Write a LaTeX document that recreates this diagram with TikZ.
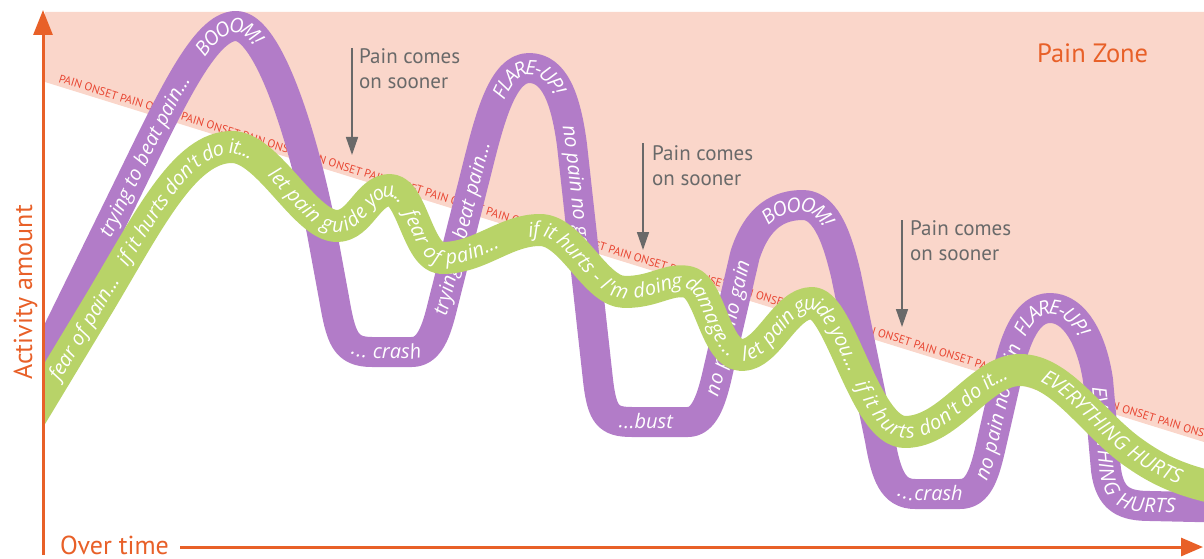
\documentclass[tikz,border=0pt]{standalone}
\usepackage{fontspec}
\setmainfont{PT Sans}
\newfontfamily\bandfamily{Open Sans}
\usetikzlibrary{arrows.meta,decorations.text}

\definecolor{zonepink}{RGB}{250,214,202}
\definecolor{onsetred}{RGB}{232,70,50}
\definecolor{bandpurple}{RGB}{178,124,200}
\definecolor{bandgreen}{RGB}{184,211,104}
\definecolor{axisorange}{RGB}{232,96,40}
\definecolor{notegray}{RGB}{105,105,105}

\newcommand\bandfont{\bandfamily\itshape\fontsize{20}{20}\selectfont}

% purple "boom and bust" curve, piece by piece (start point (30,388))
\def\puA{-- (128,188)}
\def\puB{.. controls (172,98) and (205,26) .. (236,26)}
\def\puC{.. controls (268,26) and (303,135) .. (322,233)}
\def\puD{-- (334,298)}
\def\puE{.. controls (341,338) and (345,352) .. (372,352)}
\def\puF{-- (412,352)}
\def\puG{.. controls (432,352) and (438,324) .. (444,300)}
\def\puH{-- (478,165)}
\def\puI{.. controls (490,117) and (503,68) .. (529,68)}
\def\puJ{.. controls (555,68) and (566,100) .. (572,145)}
\def\puK{-- (598,380)}
\def\puL{.. controls (602,415) and (608,422) .. (632,422)}
\def\puM{-- (688,422)}
\def\puN{.. controls (704,422) and (711,400) .. (716,380)}
\def\puO{-- (745,255)}
\def\puP{.. controls (758,215) and (780,205) .. (803,205)}
\def\puQ{.. controls (828,205) and (839,246) .. (846,275)}
\def\puR{-- (880,440)}
\def\puS{.. controls (886,475) and (893,494) .. (915,494)}
\def\puT{-- (960,494)}
\def\puU{.. controls (978,494) and (984,475) .. (990,450)}
\def\puV{-- (1006,380)}
\def\puW{.. controls (1015,335) and (1028,308) .. (1050,308)}
\def\puX{.. controls (1075,308) and (1092,340) .. (1098,380)}
\def\puY{-- (1106,470)}
\def\puZ{.. controls (1110,500) and (1125,506) .. (1150,506)}
\def\puZZ{-- (1240,508)}

% green "fear avoidance" curve, piece by piece (start point (30,418))
\def\grA{-- (100,302)}
\def\grB{.. controls (150,218) and (185,147) .. (232,147)}
\def\grC{.. controls (268,147) and (305,226) .. (337,226)}
\def\grD{.. controls (360,226) and (368,190) .. (390,190)}
\def\grE{.. controls (412,190) and (418,258) .. (442,258)}
\def\grF{.. controls (480,258) and (505,230) .. (540,230)}
\def\grG{.. controls (572,230) and (595,292) .. (625,292)}
\def\grH{.. controls (655,292) and (668,278) .. (688,282)}
\def\grI{.. controls (710,286) and (715,355) .. (742,355)}
\def\grJ{.. controls (768,355) and (785,303) .. (812,303)}
\def\grK{.. controls (840,303) and (865,432) .. (905,432)}
\def\grL{.. controls (950,432) and (980,370) .. (1020,370)}
\def\grM{.. controls (1060,370) and (1090,420) .. (1130,450)}
\def\grN{.. controls (1160,472) and (1185,483) .. (1240,493)}

\begin{document}
\begin{tikzpicture}[x=1pt,y=-1pt,
  purpleband/.style={draw=bandpurple,line width=30pt,line join=round},
  greenband/.style={draw=bandgreen,line width=32pt,line join=round},
  bandtext/.style 2 args={decorate,decoration={text along path,
      text={|\bandfont|#2},text align={left indent=#1},
      raise=-6.5pt,text color=white}},
  axisline/.style={draw=axisorange,line width=3pt},
  painarrow/.style={draw=notegray,line width=1.6pt,
      -{Triangle[length=18pt,width=12pt]}},
  note/.style={text=notegray,font=\fontsize{21}{25}\selectfont,
      align=left,anchor=north west,inner sep=0pt},
  axislabel/.style={text=axisorange,font=\fontsize{26}{26}\selectfont,
      inner sep=0pt}]

\useasboundingbox (0,0) rectangle (1204,559);

% pain zone above the pain onset line
\fill[zonepink] (45,12) -- (1204,12) -- (1204,442) -- (45,82) -- cycle;

\begin{scope}
  \clip (44,0) rectangle (1204,559);
  \node[text=onsetred,font=\fontsize{11.5}{11.5}\selectfont,inner sep=0pt,
        anchor=base west,rotate=-17.25] (onset) at (58,82)
    {PAIN ONSET PAIN ONSET PAIN ONSET PAIN ONSET PAIN ONSET PAIN ONSET
     PAIN ONSET PAIN ONSET PAIN ONSET PAIN ONSET PAIN ONSET PAIN ONSET
     PAIN ONSET PAIN ONSET PAIN ONSET PAIN ONSET PAIN ONSET PAIN ONSET
     PAIN ONSET PAIN ONSET PAIN ONSET};

  % boom and bust
  \draw[purpleband] (30,388) \puA \puB \puC \puD \puE \puF \puG \puH \puI
    \puJ \puK \puL \puM \puN \puO \puP \puQ \puR \puS \puT \puU \puV \puW
    \puX \puY \puZ \puZZ;
  \path[bandtext={170pt}{trying to beat pain...}] (30,388) \puA \puB;
  \path[bandtext={152pt}{BOOOM!}] (128,188) \puB \puC;
  \path[bandtext={55pt}{... crash}] (334,298) \puE \puF \puG;
  \path[bandtext={50pt}{trying to beat pain...}] (412,352) \puG \puH \puI;
  \path[bandtext={70pt}{FLARE-UP!}] (478,165) \puI \puJ;
  \path[bandtext={76pt}{no pain no gain}] (529,68) \puJ \puK;
  \path[bandtext={50pt}{...bust}] (598,380) \puL \puM \puN;
  \path[bandtext={38pt}{no pain no gain}] (688,422) \puN \puO \puP;
  \path[bandtext={40pt}{BOOOM!}] (745,255) \puP \puQ;
  \path[bandtext={55pt}{...crash}] (880,440) \puS \puT \puU;
  \path[bandtext={27pt}{no pain no gain}] (960,494) \puU \puV \puW;
  \path[bandtext={48pt}{FLARE-UP!}] (1006,380) \puW \puX;
  \path[bandtext={100pt}{EVERYTHING HURTS}] (1050,308) \puX \puY \puZ \puZZ;

  % fear avoidance
  \draw[greenband] (30,418) \grA \grB \grC \grD \grE \grF \grG \grH \grI
    \grJ \grK \grL \grM \grN;
  \path[bandtext={46pt}{fear of pain...}] (30,418) \grA \grB;
  \path[bandtext={44pt}{if it hurts don't do it...}] (100,302) \grB \grC;
  \path[bandtext={48pt}{let pain guide you...}] (232,147) \grC \grD \grE;
  \path[bandtext={30pt}{fear of pain...}] (390,190) \grE \grF;
  \path[bandtext={91pt}{if it hurts - I'm doing damage...}] (442,258)
    \grF \grG \grH \grI;
  \path[bandtext={0pt}{let pain guide you...}] (742,355) \grJ \grK;
  \path[bandtext={95pt}{if it hurts don't do it...}] (812,303) \grK \grL;
  \path[bandtext={24pt}{EVERYTHING HURTS}] (1020,370) \grM \grN;
\end{scope}

% "pain comes on sooner" markers
\coordinate (m1top) at (352,48);  \coordinate (m1tip) at (352,155);
\coordinate (m2top) at (643,143); \coordinate (m2tip) at (643,250);
\coordinate (m3top) at (902,220); \coordinate (m3tip) at (902,327);
\draw[painarrow] (m1top) -- (m1tip);
\draw[painarrow] (m2top) -- (m2tip);
\draw[painarrow] (m3top) -- (m3tip);
\node[note] (note1) at (359,48) {Pain comes\\on sooner};
\node[note] (note2) at (652,145) {Pain comes\\on sooner};
\node[note] (note3) at (910,220) {Pain comes\\on sooner};

\node[text=axisorange,font=\fontsize{26.5}{26.5}\selectfont,inner sep=0pt,
      anchor=base west] (zone) at (1037,63) {Pain Zone};

% axes
\coordinate (origin) at (43,555);
\coordinate (ytip) at (43,10);
\coordinate (xstart) at (180,547);
\coordinate (xtip) at (1203,547);
\draw[axisline,-{Triangle[length=25pt,width=19pt]}] (origin) -- (ytip);
\draw[axisline,-{Triangle[length=22pt,width=18pt]}] (xstart) -- (xtip);
\node[axislabel,anchor=base west] (xlabel) at (60,554) {Over time};
\node[axislabel,anchor=base west,rotate=90] (ylabel) at (32,380)
  {Activity amount};
\end{tikzpicture}
\end{document}
